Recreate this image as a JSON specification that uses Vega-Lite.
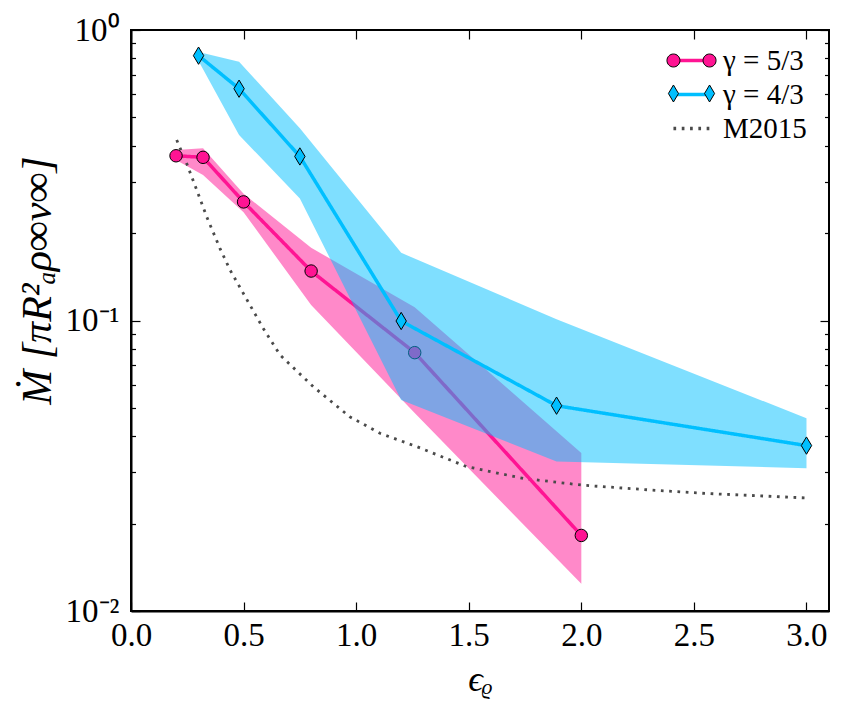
{
  "$schema": "https://vega.github.io/schema/vega-lite/v6.json",
  "width": 698,
  "height": 581,
  "autosize": {"type": "none"},
  "padding": {"left": 131, "top": 30, "right": 16, "bottom": 94},
  "background": "white",
  "config": {
    "view": {"stroke": "black", "strokeWidth": 2},
    "font": "Liberation Serif",
    "axis": {
      "grid": false,
      "labelFlush": false,
      "domainColor": "black",
      "domainWidth": 2,
      "tickColor": "black",
      "tickWidth": 1.2,
      "labelColor": "black",
      "labelFont": "Liberation Serif",
      "titleFont": "Liberation Serif",
      "titleColor": "black",
      "titleFontWeight": "normal"
    },
    "legend": {
      "labelFont": "Liberation Serif",
      "labelColor": "black",
      "labelFontSize": 29,
      "padding": 0,
      "rowPadding": 4
    }
  },
  "datasets": {
    "runs": [
      {"series": "γ = 5/3", "eps": 0.2, "mdot": 0.369},
      {"series": "γ = 5/3", "eps": 0.32, "mdot": 0.3645},
      {"series": "γ = 5/3", "eps": 0.5, "mdot": 0.256},
      {"series": "γ = 5/3", "eps": 0.8, "mdot": 0.148},
      {"series": "γ = 5/3", "eps": 1.26, "mdot": 0.0775},
      {"series": "γ = 5/3", "eps": 2.0, "mdot": 0.0182},
      {"series": "γ = 4/3", "eps": 0.3, "mdot": 0.816},
      {"series": "γ = 4/3", "eps": 0.48, "mdot": 0.628},
      {"series": "γ = 4/3", "eps": 0.75, "mdot": 0.367},
      {"series": "γ = 4/3", "eps": 1.2, "mdot": 0.0996},
      {"series": "γ = 4/3", "eps": 1.89, "mdot": 0.0509},
      {"series": "γ = 4/3", "eps": 3.0, "mdot": 0.0371}
    ],
    "bands": [
      {"series": "γ = 5/3", "eps": 0.2, "lo": 0.357, "hi": 0.386},
      {"series": "γ = 5/3", "eps": 0.32, "lo": 0.317, "hi": 0.392},
      {"series": "γ = 5/3", "eps": 0.5, "lo": 0.236, "hi": 0.273},
      {"series": "γ = 5/3", "eps": 0.8, "lo": 0.113, "hi": 0.178},
      {"series": "γ = 5/3", "eps": 1.26, "lo": 0.048, "hi": 0.111},
      {"series": "γ = 5/3", "eps": 2.0, "lo": 0.0124, "hi": 0.035},
      {"series": "γ = 4/3", "eps": 0.3, "lo": 0.782, "hi": 0.84},
      {"series": "γ = 4/3", "eps": 0.48, "lo": 0.435, "hi": 0.778},
      {"series": "γ = 4/3", "eps": 0.75, "lo": 0.263, "hi": 0.459},
      {"series": "γ = 4/3", "eps": 1.2, "lo": 0.0532, "hi": 0.171},
      {"series": "γ = 4/3", "eps": 1.89, "lo": 0.0327, "hi": 0.101},
      {"series": "γ = 4/3", "eps": 3.0, "lo": 0.031, "hi": 0.0461}
    ],
    "m2015": [
      {"series": "M2015", "eps": 0.203, "mdot": 0.418},
      {"series": "M2015", "eps": 0.247, "mdot": 0.3476},
      {"series": "M2015", "eps": 0.292, "mdot": 0.2813},
      {"series": "M2015", "eps": 0.336, "mdot": 0.2277},
      {"series": "M2015", "eps": 0.395, "mdot": 0.1772},
      {"series": "M2015", "eps": 0.44, "mdot": 0.1492},
      {"series": "M2015", "eps": 0.587, "mdot": 0.094},
      {"series": "M2015", "eps": 0.662, "mdot": 0.0761},
      {"series": "M2015", "eps": 0.809, "mdot": 0.0592},
      {"series": "M2015", "eps": 0.972, "mdot": 0.0466},
      {"series": "M2015", "eps": 1.106, "mdot": 0.0409},
      {"series": "M2015", "eps": 1.269, "mdot": 0.0368},
      {"series": "M2015", "eps": 1.491, "mdot": 0.0314},
      {"series": "M2015", "eps": 1.742, "mdot": 0.0286},
      {"series": "M2015", "eps": 2.008, "mdot": 0.0271},
      {"series": "M2015", "eps": 2.305, "mdot": 0.0261},
      {"series": "M2015", "eps": 2.549, "mdot": 0.0254},
      {"series": "M2015", "eps": 2.997, "mdot": 0.0245}
    ]
  },
  "resolve": {
    "axis": {"x": "independent", "y": "independent"},
    "scale": {"fill": "independent"}
  },
  "layer": [
    {
      "data": {"name": "bands"},
      "transform": [{"filter": "datum.series === 'γ = 5/3'"}],
      "mark": {"type": "area", "color": "#ff1493", "opacity": 0.5},
      "encoding": {
        "x": {
          "field": "eps", "type": "quantitative",
          "scale": {"domain": [0, 3.1], "nice": false, "zero": false},
          "axis": {
            "orient": "bottom",
            "values": [0, 0.5, 1, 1.5, 2, 2.5, 3],
            "format": ".1f",
            "labelFontSize": 33,
            "labelPadding": 17,
            "tickSize": -9,
            "title": "ϵᵨ",
            "titleFontSize": 36,
            "titleFontStyle": "italic",
            "titlePadding": 10
          }
        },
        "y": {
          "field": "hi", "type": "quantitative",
          "scale": {"type": "log", "domain": [0.01, 1], "nice": false},
          "axis": {
            "orient": "left",
            "values": [0.01, 0.1, 1],
            "labelExpr": "datum.value >= 0.5 ? '10⁰' : datum.value >= 0.05 ? '10⁻¹' : '10⁻²'",
            "labelFontSize": 33,
            "labelPadding": 21,
            "tickSize": -9,
            "title": "Ṁ [πR²ₐρ∞v∞]",
            "titleFontSize": 42,
            "titleFontStyle": "italic",
            "titlePadding": 6,
            "titleY": 250
          }
        },
        "y2": {"field": "lo"}
      }
    },
    {
      "data": {"name": "m2015"},
      "mark": {"type": "line", "strokeWidth": 2.8, "strokeCap": "butt"},
      "encoding": {
        "x": {"field": "eps", "type": "quantitative", "axis": null},
        "y": {"field": "mdot", "type": "quantitative", "scale": {"type": "log", "domain": [0.01, 1], "nice": false}, "axis": null},
        "stroke": {
          "field": "series", "type": "nominal",
          "scale": {"domain": ["γ = 5/3", "γ = 4/3", "M2015"], "range": ["#ff1493", "#00bfff", "#4a4a4a"]},
          "legend": {
            "orient": "none", "legendX": 546, "legendY": 16, "title": null,
            "symbolType": "M-1.9,0H1.9", "symbolSize": 361, "symbolStrokeWidth": 3.5,
            "labelOffset": 17
          }
        },
        "strokeDash": {
          "field": "series", "type": "nominal",
          "scale": {"domain": ["γ = 5/3", "γ = 4/3", "M2015"], "range": [[1, 0], [1, 0], [2.7, 5.6]]},
          "legend": {
            "orient": "none", "legendX": 546, "legendY": 16, "title": null,
            "symbolType": "M-1.9,0H1.9", "symbolSize": 361, "symbolStrokeWidth": 3.5,
            "labelOffset": 17
          }
        }
      }
    },
    {
      "data": {"name": "runs"},
      "transform": [{"filter": "datum.series === 'γ = 5/3'"}],
      "mark": {"type": "line", "strokeWidth": 3.5},
      "encoding": {
        "x": {
          "field": "eps", "type": "quantitative",
          "axis": {"orient": "top", "values": [0, 0.5, 1, 1.5, 2, 2.5, 3], "labels": false, "domain": false, "tickSize": -9, "title": null}
        },
        "y": {
          "field": "mdot", "type": "quantitative",
          "scale": {"type": "log", "domain": [0.01, 1], "nice": false},
          "axis": {"orient": "left", "values": [0.02, 0.03, 0.04, 0.05, 0.06, 0.07, 0.08, 0.09, 0.2, 0.3, 0.4, 0.5, 0.6, 0.7, 0.8, 0.9], "labels": false, "domain": false, "tickSize": -4.5, "title": null}
        },
        "stroke": {"field": "series", "type": "nominal"},
        "strokeDash": {"field": "series", "type": "nominal"}
      }
    },
    {
      "data": {"name": "runs"},
      "transform": [{"filter": "datum.series === 'γ = 5/3'"}],
      "mark": {"type": "point", "filled": true, "shape": "circle", "size": 155, "stroke": "black", "strokeWidth": 1, "opacity": 1},
      "encoding": {
        "x": {"field": "eps", "type": "quantitative", "axis": null},
        "y": {
          "field": "mdot", "type": "quantitative",
          "scale": {"type": "log", "domain": [0.01, 1], "nice": false},
          "axis": {"orient": "right", "values": [0.01, 0.1, 1], "labels": false, "domain": false, "tickSize": -9, "title": null}
        },
        "fill": {
          "field": "series", "type": "nominal",
          "scale": {"domain": ["γ = 5/3"], "range": ["#ff1493"]},
          "legend": {
            "orient": "none", "legendX": 546, "legendY": 16, "title": null,
            "symbolType": "M-1.216,0A0.684,0.684,0,1,1,-2.584,0A0.684,0.684,0,1,1,-1.216,0ZM2.584,0A0.684,0.684,0,1,1,1.216,0A0.684,0.684,0,1,1,2.584,0Z",
            "symbolSize": 361, "symbolStrokeColor": "black", "symbolStrokeWidth": 1,
            "labelOffset": 17, "labelOpacity": 0
          }
        }
      }
    },
    {
      "data": {"name": "bands"},
      "transform": [{"filter": "datum.series === 'γ = 4/3'"}],
      "mark": {"type": "area", "color": "#00bfff", "opacity": 0.5},
      "encoding": {
        "x": {"field": "eps", "type": "quantitative", "axis": null},
        "y": {
          "field": "hi", "type": "quantitative",
          "scale": {"type": "log", "domain": [0.01, 1], "nice": false},
          "axis": {"orient": "right", "values": [0.02, 0.03, 0.04, 0.05, 0.06, 0.07, 0.08, 0.09, 0.2, 0.3, 0.4, 0.5, 0.6, 0.7, 0.8, 0.9], "labels": false, "domain": false, "tickSize": -4.5, "title": null}
        },
        "y2": {"field": "lo"}
      }
    },
    {
      "data": {"name": "runs"},
      "transform": [{"filter": "datum.series === 'γ = 4/3'"}],
      "mark": {"type": "line", "strokeWidth": 3.5},
      "encoding": {
        "x": {"field": "eps", "type": "quantitative", "axis": null},
        "y": {"field": "mdot", "type": "quantitative", "scale": {"type": "log", "domain": [0.01, 1], "nice": false}, "axis": null},
        "stroke": {"field": "series", "type": "nominal"},
        "strokeDash": {"field": "series", "type": "nominal"}
      }
    },
    {
      "data": {"name": "runs"},
      "transform": [{"filter": "datum.series === 'γ = 4/3'"}],
      "mark": {"type": "point", "filled": true, "shape": "M0,-1L0.6,0L0,1L-0.6,0Z", "size": 300, "stroke": "black", "strokeWidth": 1, "opacity": 1},
      "encoding": {
        "x": {"field": "eps", "type": "quantitative", "axis": null},
        "y": {"field": "mdot", "type": "quantitative", "scale": {"type": "log", "domain": [0.01, 1], "nice": false}, "axis": null},
        "fill": {
          "field": "series", "type": "nominal",
          "scale": {"domain": ["γ = 4/3"], "range": ["#00bfff"]},
          "legend": {
            "orient": "none", "legendX": 546, "legendY": 49, "title": null,
            "symbolType": "M-1.9,-0.895L-1.37,0L-1.9,0.895L-2.43,0ZM1.9,-0.895L2.43,0L1.9,0.895L1.37,0Z",
            "symbolSize": 361, "symbolStrokeColor": "black", "symbolStrokeWidth": 1,
            "labelOffset": 17, "labelOpacity": 0
          }
        }
      }
    }
  ]
}
